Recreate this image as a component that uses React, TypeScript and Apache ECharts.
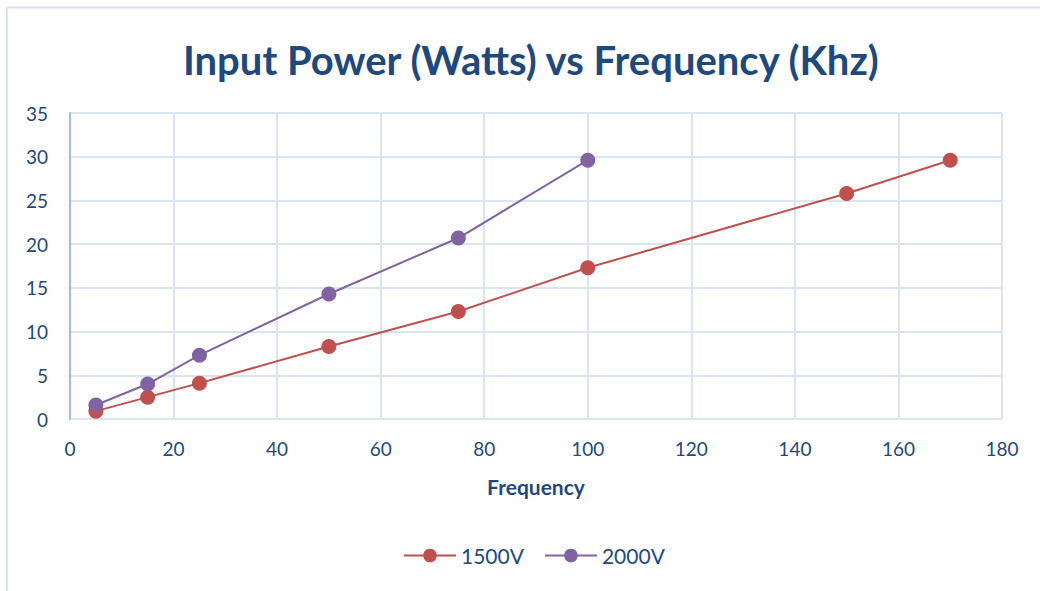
import React, { useEffect, useRef } from "react";
import * as echarts from "echarts";

const freq1500 = [5, 15, 25, 50, 75, 100, 150, 170];
const power1500 = [0.9, 2.5, 4.1, 8.3, 12.3, 17.3, 25.8, 29.6];
const freq2000 = [5, 15, 25, 50, 75, 100];
const power2000 = [1.6, 4.0, 7.3, 14.3, 20.7, 29.6];
const seriesNames = ["1500V", "2000V"];

const TEXT = "#1F497D";
const GRID = "#D9E4F4";

export default function App() {
  const ref = useRef<HTMLDivElement>(null);
  useEffect(() => {
    if (!ref.current) return;
    const chart = echarts.init(ref.current, null, { renderer: "svg" });
    const mk = (xs: number[], ys: number[]) => xs.map((x, i) => [x, ys[i]]);
    chart.setOption({
      animation: false,
      backgroundColor: "#ffffff",
      textStyle: { fontFamily: "Lato" },
      title: {
        text: "Input Power (Watts) vs Frequency (Khz)",
        left: 178,
        top: 35,
        textStyle: { fontFamily: "Lato", fontSize: 40, fontWeight: "bold", color: TEXT },
      },
      graphic: [
        { type: "line", shape: { x1: 7, y1: 7.5, x2: 1040, y2: 7.5 }, style: { stroke: GRID, lineWidth: 2 } },
        { type: "line", shape: { x1: 7, y1: 7.5, x2: 7, y2: 591 }, style: { stroke: GRID, lineWidth: 2 } },
      ],
      grid: { left: 70, right: 38, top: 113, bottom: 172, containLabel: false },
      legend: {
        bottom: 20,
        left: 398,
        itemWidth: 52,
        itemHeight: 17,
        itemGap: 20,
        textStyle: { fontFamily: "Lato", fontSize: 21, color: TEXT },
        data: seriesNames,
      },
      xAxis: {
        type: "value",
        min: 0,
        max: 180,
        interval: 20,
        name: "Frequency",
        nameLocation: "middle",
        nameGap: 57,
        nameTextStyle: { fontFamily: "Lato", fontSize: 21, fontWeight: "bold", color: TEXT },
        axisLine: { show: false },
        axisTick: { show: false },
        axisLabel: { fontSize: 19, color: TEXT, margin: 20 },
        splitLine: { show: true, lineStyle: { color: GRID, width: 2 } },
      },
      yAxis: {
        type: "value",
        min: 0,
        max: 35,
        interval: 5,
        axisLine: { show: true, lineStyle: { color: "#9DBCE4", width: 2 } },
        axisTick: { show: false },
        axisLabel: { fontSize: 19, color: TEXT, margin: 22 },
        splitLine: { show: true, lineStyle: { color: GRID, width: 2 } },
      },
      series: [
        {
          name: seriesNames[0],
          type: "line",
          data: mk(freq1500, power1500),
          symbol: "circle",
          symbolSize: 15,
          itemStyle: { color: "#C0504D" },
          lineStyle: { color: "#C0504D", width: 2 },
        },
        {
          name: seriesNames[1],
          type: "line",
          data: mk(freq2000, power2000),
          symbol: "circle",
          symbolSize: 15,
          itemStyle: { color: "#8064A2" },
          lineStyle: { color: "#8064A2", width: 2 },
        },
      ],
    });
    return () => chart.dispose();
  }, []);
  return (
    <div
      ref={ref}
      style={{ position: "absolute", left: 0, top: 0, width: 1040, height: 591 }}
    />
  );
}
